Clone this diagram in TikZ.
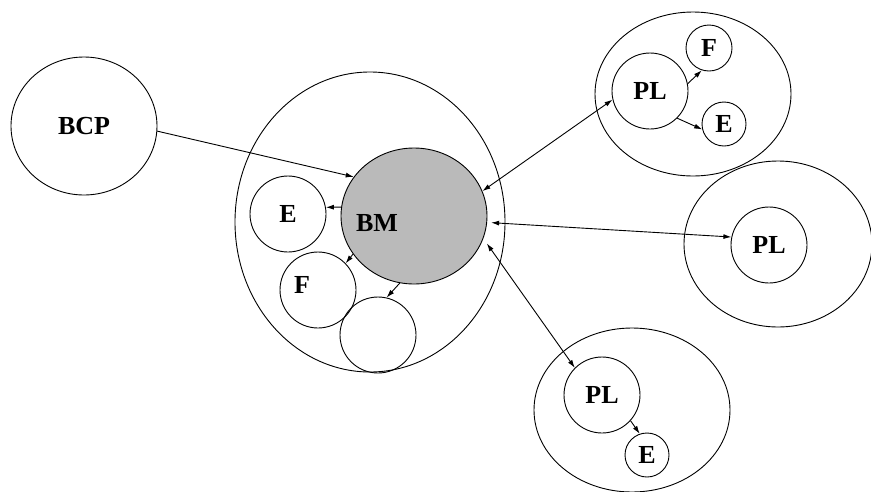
\documentclass[tikz,border=0pt]{standalone}
\usepackage{fontspec}
\setmainfont{Liberation Serif}
\usetikzlibrary{shapes.geometric,arrows.meta}
\begin{document}
\begin{tikzpicture}
		[x=1pt,y=-1pt,line width=0.9pt,>={Latex[length=8pt,width=5pt]},
		every node/.style={ellipse,draw,inner sep=0pt,font=\fontsize{26}{30}\selectfont\bfseries},
		sz/.style 2 args={minimum width=#1,minimum height=#2}] % every node is an ellipse, sz gives its width and height
		
		\useasboundingbox (0,0) rectangle (871,491);
		
		\node[sz={146}{138}] (bcp) at (84,126) {BCP};
		
		\node[sz={270}{300}] (pool) at (370,222) {};
		\node[sz={146}{136},fill=black!27] (bm) at (414,216) {};
		\node[draw=none] (bmtxt) at (377,223) {BM};
		\node[sz={76}{76}] (e1) at (288,214) {E};
		\node[sz={76}{76}] (f1) at (318,290) {};
		\node[draw=none] (f1txt) at (302,285) {F};
		\node[sz={76}{76}] (g1) at (378,335) {};
		
		\node[sz={196}{164}] (club1) at (693,94) {};
		\node[sz={76}{76}] (pl1) at (650,91) {PL};
		\node[sz={46}{46}] (f2) at (709,48) {F};
		\node[sz={44}{44}] (e2) at (724,124) {E};
		
		\node[sz={188}{166}] (club2) at (778,244) {};
		\node[sz={76}{76}] (pl2) at (769,245) {PL};
		
		\node[sz={196}{164}] (club3) at (632,410) {};
		\node[sz={76}{76}] (pl3) at (602,395) {PL};
		\node[sz={44}{44}] (e3) at (647,455) {E};
		
		\draw [->] (bcp.-4) -- (bm.147);
		\draw [->] (bm.173) -- (e1.10);
		\draw [->] (bm.212) -- (f1.44);
		\draw [->] (bm.258) -- (g1.77);
		\draw [<->] (bm.20) -- (pl1.193);
		\draw [<->,shorten <=4pt] (bm.-5) -- (pl2.168);
		\draw [<->,shorten <=6pt] (bm.-18) -- (pl3.135);
		\draw [->] (pl1.11) -- (f2.252);
		\draw [->] (pl1.-45) -- (e2.194);
		\draw [->] (pl3.-42) -- (e3.109);
		
	\end{tikzpicture}
\end{document}
